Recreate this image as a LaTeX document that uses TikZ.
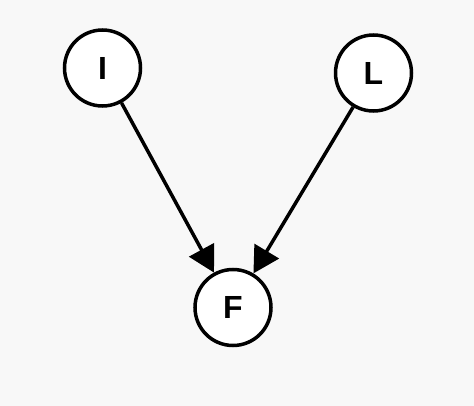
\documentclass[tikz,border=0pt]{standalone}
\usepackage{fontspec}
\setmainfont{Liberation Sans}
\usetikzlibrary{arrows.meta}
\definecolor{bgcol}{HTML}{F8F8F8}
\begin{document}
\begin{tikzpicture}[x=1pt,y=-1pt,
  var/.style={circle,draw=black,line width=3.5pt,fill=white,minimum size=76pt,inner sep=0pt,
    font=\fontsize{32}{32}\selectfont\bfseries},
  link/.style={line width=3.5pt,-{Triangle[length=26pt,width=28pt]}}]
  \fill[bgcol] (0,0) rectangle (474,406);
  \useasboundingbox (0,0) rectangle (474,406);
  \node[var] (I) at (102.5,68) {I};
  \node[var] (L) at (373.5,73) {L};
  \node[var] (F) at (233,307.5) {F};
  \draw[link] (I) -- (F);
  \draw[link] (L) -- (F);
\end{tikzpicture}
\end{document}
